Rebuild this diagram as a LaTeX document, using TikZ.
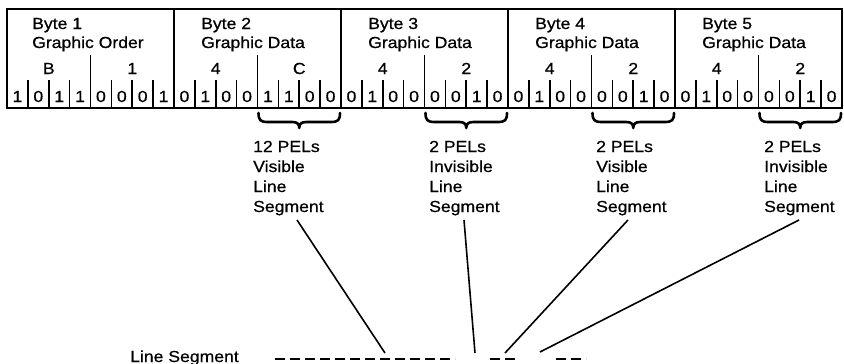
\documentclass[tikz,border=0pt]{standalone}
\usepackage{fontspec}
\setmainfont[FakeStretch=1.1,FakeBold=0.6]{Liberation Sans}
\begin{document}
\begin{tikzpicture}[x=1pt,y=-1pt,
  tbl/.style={line width=1.6pt},
  txt/.style={font=\fontsize{16}{20}\selectfont, inner sep=0pt},
  hdr/.style={font=\fontsize{16}{19}\selectfont, inner sep=0pt, anchor=base west, align=left},
  lab/.style={font=\fontsize{16}{20}\selectfont, inner sep=0pt, anchor=base west, align=left},
  brace/.style={line width=2.6pt, line cap=round, line join=round},
  conn/.style={line width=1.6pt},
  seg/.style={line width=2.6pt, dash pattern=on 10pt off 5pt}]
\useasboundingbox (0,0) rectangle (844,364);
% table frame
\draw[tbl] (7,9) rectangle (842,108);
\foreach \k in {1,...,4} \draw[tbl] (7+167*\k,9) -- (7+167*\k,108);
\foreach \k in {0,...,4} \draw[tbl] (7+167*\k+83.5,55) -- (7+167*\k+83.5,108);
\foreach \k in {0,...,4} \foreach \j in {1,2,3,5,6,7}
  \draw[tbl] (7+167*\k+20.875*\j,80) -- (7+167*\k+20.875*\j,108);
% headers (anchor = baseline of the last line)
\node[hdr] (h1) at (32,48) {Byte 1\\Graphic Order};
\foreach \k/\n in {1/2,2/3,3/4,4/5}
  \node[hdr] (h\n) at (7+167*\k+27,48) {Byte \n\\Graphic Data};
% hex digits
\foreach \d [count=\i from 0] in {B,1,4,C,4,2,4,2,4,2}
  \node[txt,anchor=base] (x\i) at (7+83.5*\i+41.75,74) {\d};
% bits
\foreach \b [count=\i from 0] in {1,0,1,1,0,0,0,1, 0,1,0,0,1,1,0,0, 0,1,0,0,0,0,1,0, 0,1,0,0,0,0,1,0, 0,1,0,0,0,0,1,0}
  \node[txt,anchor=base] (b\i) at (7+20.875*\i+10.44,102) {\b};
% braces
\foreach \k/\n in {1/1,2/2,3/3,4/4} {
  \pgfmathsetmacro{\xa}{7+167*\k+83.5+1}
  \pgfmathsetmacro{\xb}{7+167*\k+167-1}
  \pgfmathsetmacro{\xm}{(\xa+\xb)/2}
  \draw[brace] (\xa,113) .. controls (\xa,120) and (\xa+2,122) .. (\xa+9,122)
    -- (\xm-7,122) .. controls (\xm-2,122) and (\xm,124) .. (\xm,128)
    .. controls (\xm,124) and (\xm+2,122) .. (\xm+7,122)
    -- (\xb-9,122) .. controls (\xb-2,122) and (\xb,120) .. (\xb,113);
}
% labels (anchor = baseline of the last line)
\node[lab] (l1) at (253,212) {12 PELs\\Visible\\Line\\Segment};
\node[lab] (l2) at (429,212) {2 PELs\\Invisible\\Line\\Segment};
\node[lab] (l3) at (596,212) {2 PELs\\Visible\\Line\\Segment};
\node[lab] (l4) at (764,212) {2 PELs\\Invisible\\Line\\Segment};
% line segment
\node[txt,anchor=base west] (ls) at (130,362) {Line Segment};
\coordinate (s1a) at (275,359); \coordinate (s1b) at (455,359);
\coordinate (s2a) at (490,359); \coordinate (s2b) at (520,359);
\coordinate (s3a) at (556,359); \coordinate (s3b) at (586,359);
\draw[seg] (s1a) -- (s1b);
\draw[seg] (s2a) -- (s2b);
\draw[seg] (s3a) -- (s3b);
% connectors
\coordinate (t1) at (297,220); \coordinate (e1) at (385,353);
\coordinate (t2) at (464,220); \coordinate (e2) at (475,353);
\coordinate (t3) at (628,220); \coordinate (e3) at (505,353);
\coordinate (t4) at (799,220); \coordinate (e4) at (540,352);
\draw[conn] (t1) -- (e1);
\draw[conn] (t2) -- (e2);
\draw[conn] (t3) -- (e3);
\draw[conn] (t4) -- (e4);
\end{tikzpicture}
\end{document}
